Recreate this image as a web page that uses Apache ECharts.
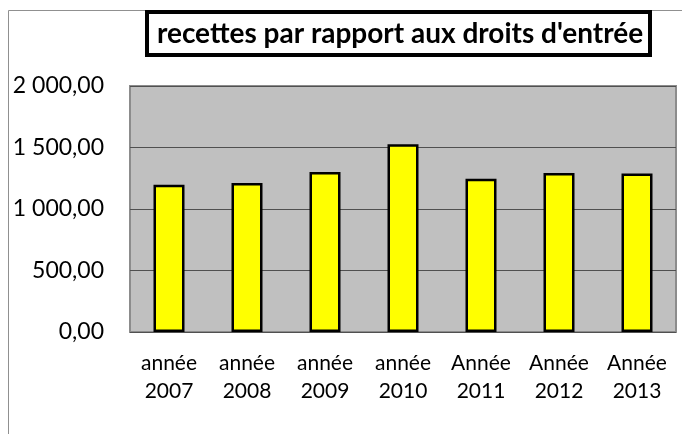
<!DOCTYPE html>
<html>
<head>
<meta charset="utf-8">
<script src="https://cdn.jsdelivr.net/npm/echarts@6/dist/echarts.min.js"></script>
<style>html,body{margin:0;padding:0;background:#fff;}#c{width:682px;height:434px;}</style>
</head>
<body>
<div id="c"></div>
<script>
const titleText = "recettes par rapport aux droits d'entrée";
const categories = ["année\n2007", "année\n2008", "année\n2009", "année\n2010", "Année\n2011", "Année\n2012", "Année\n2013"];
const values = [1198, 1211, 1300, 1527, 1246, 1292, 1289];
const yMin = 0, yMax = 2000, yStep = 500;

function fmt(v) {
  const parts = v.toFixed(2).split('.');
  const intPart = parts[0].replace(/\B(?=(\d{3})+(?!\d))/g, ' ');
  return intPart + ',' + parts[1];
}

const chart = echarts.init(document.getElementById('c'), null, {renderer: 'canvas'});
chart.setOption({
  animation: false,
  backgroundColor: '#ffffff',
  graphic: [
    {type: 'polyline', shape: {points: [[8.5, 434], [8.5, 10.5], [682, 10.5]]}, style: {stroke: '#909090', lineWidth: 1, fill: null}, z: 0},
    {type: 'rect', shape: {x: 147, y: 12, width: 503, height: 43}, style: {fill: '#ffffff', stroke: '#000000', lineWidth: 4}, z: 10},
    {type: 'text', x: 400, y: 34, style: {text: titleText, font: 'bold 28px Lato', fill: '#000', textAlign: 'center', textVerticalAlign: 'middle'}, z: 11}
  ],
  grid: {left: 130, right: 6, top: 86, bottom: 102, show: true, backgroundColor: '#c0c0c0', borderColor: '#8c8c8c', borderWidth: 2},
  xAxis: {
    type: 'category',
    data: categories,
    axisLine: {show: false},
    axisTick: {show: false},
    axisLabel: {color: '#000', fontFamily: 'Lato', fontSize: 21, lineHeight: 28, margin: 17, interval: 0}
  },
  yAxis: {
    type: 'value',
    min: yMin, max: yMax, interval: yStep,
    axisLine: {show: false},
    axisTick: {show: false},
    splitLine: {lineStyle: {color: '#505050', width: 1}},
    axisLabel: {color: '#000', fontFamily: 'Lato', fontSize: 23, margin: 26, formatter: fmt}
  },
  series: [{
    type: 'bar',
    data: values,
    barWidth: 31,
    itemStyle: {color: '#ffff00', borderColor: '#000000', borderWidth: 2.5}
  }]
});
</script>
</body>
</html>
